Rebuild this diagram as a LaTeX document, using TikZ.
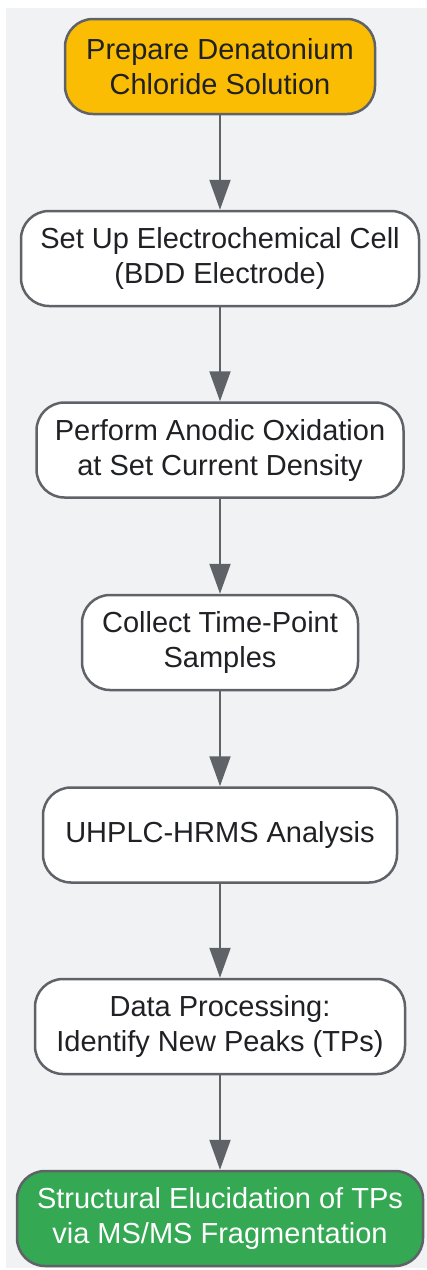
\documentclass[tikz,border=0pt]{standalone}
\usepackage{fontspec}
\setmainfont{Liberation Sans}
\usetikzlibrary{arrows.meta}
\definecolor{bgc}{HTML}{F1F2F4}
\definecolor{edgec}{HTML}{5F6368}
\definecolor{txtc}{HTML}{202124}
\definecolor{orangec}{HTML}{FBBC04}
\definecolor{greenc}{HTML}{34A853}
\tikzset{
  stepbox/.style={draw=edgec, line width=2.5pt, fill=white, rounded corners=28pt,
    minimum height=95pt, inner sep=0pt, align=center, text=txtc,
    font=\fontsize{29}{35}\selectfont},
  startbox/.style={stepbox, fill=orangec},
  endbox/.style={stepbox, fill=greenc, text=white},
  arr/.style={draw=edgec, line width=2pt, -{Triangle[length=30pt,width=21pt]}}
}
\begin{document}
\begin{tikzpicture}[x=1pt,y=1pt]
\useasboundingbox (0,0) rectangle (427,-1270);
\fill[bgc] (6,-8) rectangle (427,-1268);
\node[startbox, minimum width=310pt] (n1) at (220,-66.5) {Prepare Denatonium\\Chloride Solution};
\node[stepbox, minimum width=398pt] (n2) at (220,-258.5) {Set Up Electrochemical Cell\\(BDD Electrode)};
\node[stepbox, minimum width=367pt] (n3) at (220,-450) {Perform Anodic Oxidation\\at Set Current Density};
\node[stepbox, minimum width=276pt] (n4) at (220,-642.5) {Collect Time-Point\\Samples};
\node[stepbox, minimum width=354pt] (n5) at (220,-835) {UHPLC-HRMS Analysis};
\node[stepbox, minimum width=370pt] (n6) at (220,-1026.5) {Data Processing:\\Identify New Peaks (TPs)};
\node[endbox, minimum width=406pt] (n7) at (220,-1218.5) {Structural Elucidation of TPs\\via MS/MS Fragmentation};
\draw[arr] (n1.south) -- (n2.north);
\draw[arr] (n2.south) -- (n3.north);
\draw[arr] (n3.south) -- (n4.north);
\draw[arr] (n4.south) -- (n5.north);
\draw[arr] (n5.south) -- (n6.north);
\draw[arr] (n6.south) -- (n7.north);
\end{tikzpicture}
\end{document}
